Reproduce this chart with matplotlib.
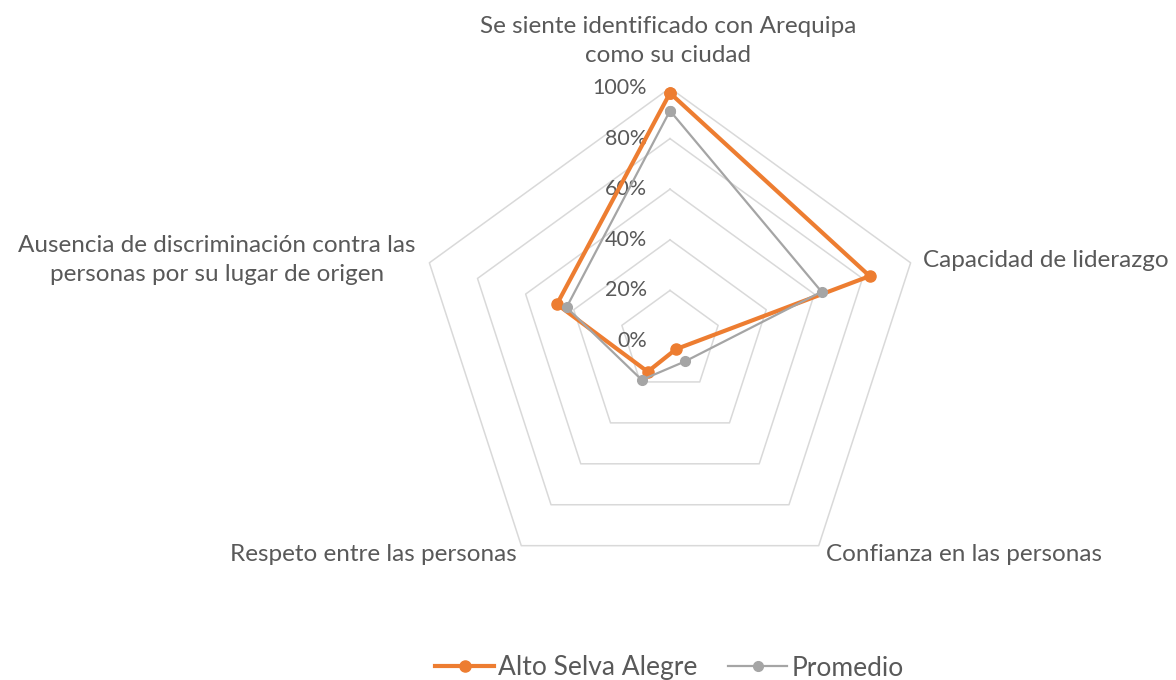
import matplotlib.pyplot as plt
import numpy as np

categorias = ["Se siente identificado con Arequipa\ncomo su ciudad",
              "Capacidad de liderazgo",
              "Confianza en las personas",
              "Respeto entre las personas",
              "Ausencia de discriminación contra las\npersonas por su lugar de origen"]
alto_selva = [0.98, 0.83, 0.04, 0.15, 0.47]
promedio = [0.91, 0.63, 0.10, 0.19, 0.43]
ticks = [0.0, 0.2, 0.4, 0.6, 0.8, 1.0]
tick_labels = ["0%", "20%", "40%", "60%", "80%", "100%"]

plt.rcParams['font.family'] = ['Lato', 'DejaVu Sans']
gris_texto = '#595959'
fs = 17.5

fig = plt.figure(figsize=(11.76, 6.8), dpi=100)
ax = fig.add_axes([0, 0, 1, 1])
R = 253.0
ax.set_xlim(-670 / R, (1176 - 670) / R)
ax.set_ylim(-339 / R, 341 / R)
ax.axis('off')

ang = np.pi / 2 - np.arange(5) * 2 * np.pi / 5

# pentagonos de la rejilla
for t in ticks[1:]:
    xs = t * np.cos(np.append(ang, ang[0]))
    ys = t * np.sin(np.append(ang, ang[0]))
    ax.plot(xs, ys, color='#d9d9d9', lw=1.1, zorder=1)

for t, lab in zip(ticks, tick_labels):
    ax.text(-23 / R, t, lab, ha='right', va='center', fontsize=15.5, color=gris_texto)

def serie(vals, color, lw, ms, z, label):
    v = np.array(vals + vals[:1])
    a = np.append(ang, ang[0])
    ax.plot(v * np.cos(a), v * np.sin(a), color=color, lw=lw, marker='o', ms=ms,
            zorder=z, label=label)

serie(alto_selva, '#ED7D31', 3.0, 8, 3, 'Alto Selva Alegre')
serie(promedio, '#A5A5A5', 1.6, 7, 4, 'Promedio')

# etiquetas de categorias
ax.text(-2 / R, 300 / R, categorias[0], ha='center', va='center', fontsize=fs,
        color=gris_texto, linespacing=1.45)
ax.text(np.cos(ang[1]) + 12 / R, np.sin(ang[1]) + 2 / R, categorias[1], ha='left',
        va='center', fontsize=fs, color=gris_texto)
ax.text(np.cos(ang[2]) + 7 / R, np.sin(ang[2]) - 9 / R, categorias[2], ha='left',
        va='center', fontsize=fs, color=gris_texto)
ax.text(np.cos(ang[3]) - 5 / R, np.sin(ang[3]) - 9 / R, categorias[3], ha='right',
        va='center', fontsize=fs, color=gris_texto)
ax.text(-453 / R, 81 / R, categorias[4], ha='center', va='center', fontsize=fs,
        color=gris_texto, linespacing=1.45)

leg = fig.legend(loc='center', bbox_to_anchor=(0.569, 12 / 680), ncol=2, frameon=False,
                 fontsize=19, handlelength=2.25, columnspacing=1.15, handletextpad=0.15)
for txt in leg.get_texts():
    txt.set_color(gris_texto)

fig.savefig('out.png', dpi=100)
